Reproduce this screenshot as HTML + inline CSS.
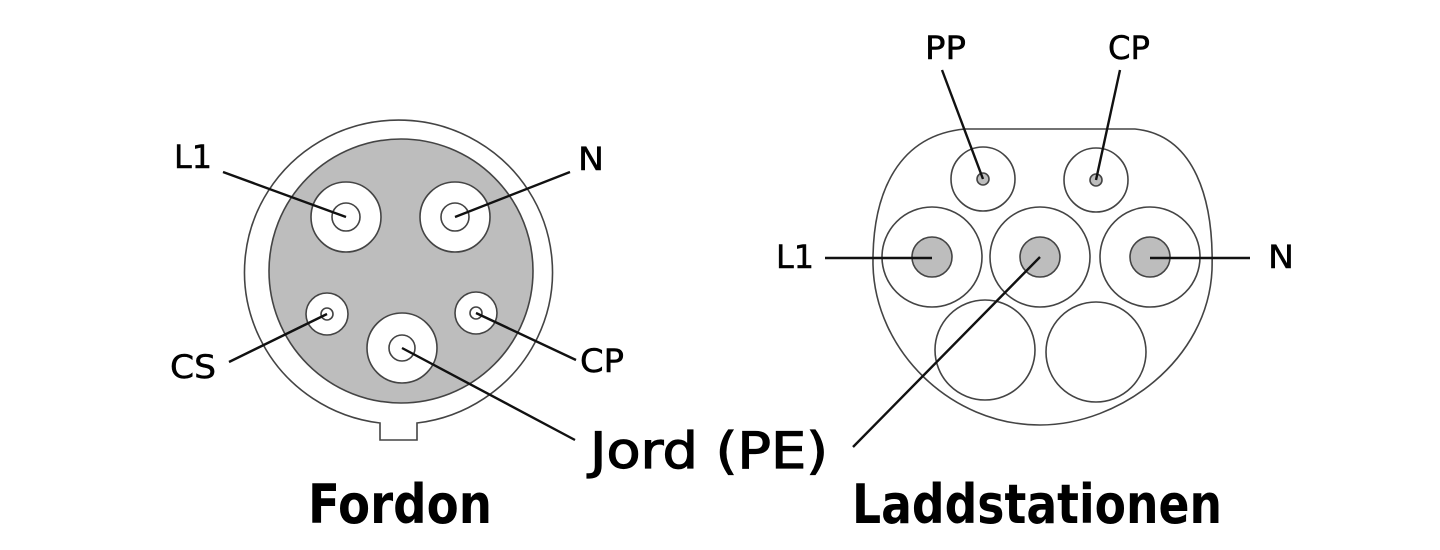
<!DOCTYPE html>
<html><head><meta charset="utf-8"><style>
html,body{margin:0;padding:0;background:#fff;}
svg{display:block;}
text{font-family:"DejaVu Sans","Liberation Sans",sans-serif;fill:#000;}
</style></head><body>
<svg width="1440" height="550" viewBox="0 0 1440 550" xmlns="http://www.w3.org/2000/svg">
<g stroke="#444" stroke-width="1.6" fill="none">
  <path d="M380,423 A154,152 0 1 1 417,423 L417,440 L380,440 Z" fill="#fff"/>
  <circle cx="401" cy="271" r="132" fill="#bdbdbd"/>
  <circle cx="346" cy="217" r="35" fill="#fff"/>
  <circle cx="346" cy="217" r="14" fill="#fff"/>
  <circle cx="455" cy="217" r="35" fill="#fff"/>
  <circle cx="455" cy="217" r="14" fill="#fff"/>
  <circle cx="327" cy="314" r="21" fill="#fff"/>
  <circle cx="327" cy="314" r="6" fill="#fff"/>
  <circle cx="476" cy="313" r="21" fill="#fff"/>
  <circle cx="476" cy="313" r="6" fill="#fff"/>
  <circle cx="402" cy="348" r="35" fill="#fff"/>
  <circle cx="402" cy="348" r="13" fill="#fff"/>
  <path d="M965,129 L1135,129 C1195,135 1214,200 1212,270 C1208,360 1120,425 1040,425 C950,425 875,350 873,265 C872,190 900,135 965,129 Z" fill="#fff"/>
  <circle cx="983" cy="179" r="32" fill="#fff"/>
  <circle cx="983" cy="179" r="6" fill="#bdbdbd"/>
  <circle cx="1096" cy="180" r="32" fill="#fff"/>
  <circle cx="1096" cy="180" r="6" fill="#bdbdbd"/>
  <circle cx="932" cy="257" r="50" fill="#fff"/>
  <circle cx="932" cy="257" r="20" fill="#bdbdbd"/>
  <circle cx="1040" cy="257" r="50" fill="#fff"/>
  <circle cx="1040" cy="257" r="20" fill="#bdbdbd"/>
  <circle cx="1150" cy="257" r="50" fill="#fff"/>
  <circle cx="1150" cy="257" r="20" fill="#bdbdbd"/>
  <circle cx="985" cy="350" r="50" fill="#fff"/>
  <circle cx="1096" cy="352" r="50" fill="#fff"/>
</g>
<g stroke="#111" stroke-width="2.4" fill="none">
  <line x1="223" y1="172" x2="346" y2="217"/>
  <line x1="570" y1="172" x2="455" y2="217"/>
  <line x1="229" y1="362" x2="327" y2="314"/>
  <line x1="576" y1="360" x2="476" y2="313"/>
  <line x1="402" y1="348" x2="575" y2="440"/>
  <line x1="942" y1="70" x2="983" y2="179"/>
  <line x1="1120" y1="70" x2="1096" y2="180"/>
  <line x1="825" y1="258" x2="932" y2="258"/>
  <line x1="1150" y1="258" x2="1250" y2="258"/>
  <line x1="1040" y1="257" x2="853" y2="447"/>
</g>
<g font-size="32" stroke="#000" stroke-width="0.5">
  <text x="174" y="168" textLength="38" lengthAdjust="spacingAndGlyphs">L1</text>
  <text x="578" y="170" textLength="26" lengthAdjust="spacingAndGlyphs">N</text>
  <text x="170" y="378" textLength="46" lengthAdjust="spacingAndGlyphs">CS</text>
  <text x="580" y="372" textLength="44" lengthAdjust="spacingAndGlyphs">CP</text>
  <text x="925" y="59" textLength="41" lengthAdjust="spacingAndGlyphs">PP</text>
  <text x="1108" y="59" textLength="42" lengthAdjust="spacingAndGlyphs">CP</text>
  <text x="776" y="268" textLength="38" lengthAdjust="spacingAndGlyphs">L1</text>
  <text x="1268" y="268" textLength="26" lengthAdjust="spacingAndGlyphs">N</text>
</g>
<text x="590" y="468" font-size="50" stroke="#000" stroke-width="1.2" textLength="238" lengthAdjust="spacingAndGlyphs">Jord (PE)</text>
<text x="308" y="523" font-size="54" font-weight="bold" textLength="184" lengthAdjust="spacingAndGlyphs">Fordon</text>
<text x="852" y="523" font-size="54" font-weight="bold" textLength="370" lengthAdjust="spacingAndGlyphs">Laddstationen</text>
</svg>
</body></html>
